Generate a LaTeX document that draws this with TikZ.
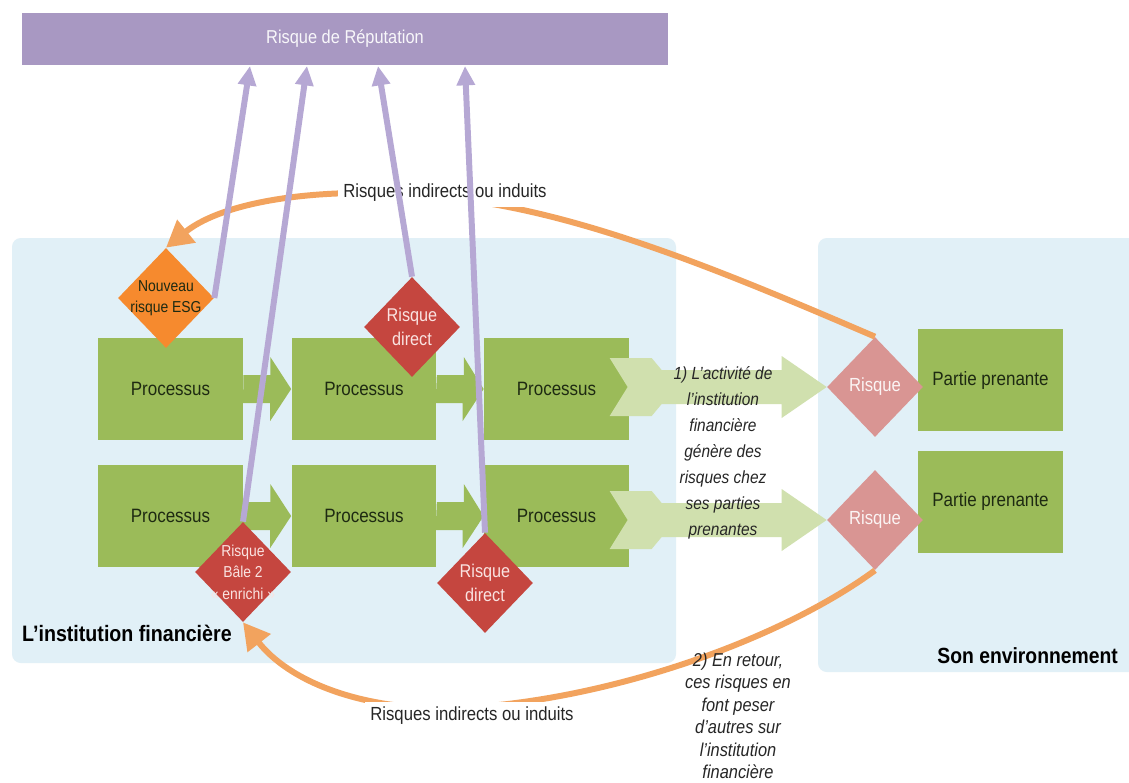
\documentclass[tikz,border=0pt]{standalone}
\usepackage{fontspec}
\setmainfont{Liberation Sans}[FakeStretch=0.88]
\usetikzlibrary{shapes.geometric,arrows.meta,calc}

\definecolor{repviolet}{HTML}{A898C2}
\definecolor{lineviolet}{HTML}{B6A8D4}
\definecolor{panelblue}{HTML}{E1F0F7}
\definecolor{procgreen}{HTML}{9BBB59}
\definecolor{palegreen}{HTML}{D0E0AE}
\definecolor{esgorange}{HTML}{F68A2E}
\definecolor{directred}{HTML}{C5463F}
\definecolor{risquepink}{HTML}{D99593}
\definecolor{induitorange}{HTML}{F2A35E}
\definecolor{darktext}{HTML}{1E2A12}
\definecolor{paletext}{HTML}{FAE3E1}

\tikzset{
  proc/.style={fill=procgreen, minimum width=2.9cm, minimum height=2.04cm, inner sep=0,
    text=darktext, font=\fontsize{11}{13}\selectfont},
  diam/.style={diamond, minimum width=1.92cm, minimum height=2cm, inner sep=0},
  dtext/.style={align=center, text=paletext},
  repline/.style={lineviolet, line width=3.4pt, -{Triangle[width=10pt,length=11pt]}},
  induit/.style={induitorange, line width=3.4pt, -{Triangle[width=16pt,length=15pt]}},
  induitlabel/.style={fill=white, inner sep=3pt, text=black!85, font=\fontsize{10.8}{13}\selectfont}
}

\begin{document}
\begin{tikzpicture}[x=0.02cm,y=-0.02cm]
\fill[white] (0,0) rectangle (1129,782);
\useasboundingbox (0,0) rectangle (1129,782);

% les deux cadres
\fill[panelblue, rounded corners=5pt] (12,238) rectangle (676,663);
\fill[panelblue, rounded corners=5pt] (818,238) rectangle (1150,672);

\node[fill=repviolet, minimum width=12.92cm, minimum height=1.04cm, text=white!92!repviolet,
  font=\fontsize{10.6}{13}\selectfont] (rep) at (345,39) {Risque de Réputation};

% processus
\node[proc] (p11) at (170.5,389) {Processus};
\node[proc] (p12) at (364,389) {Processus};
\node[proc] (p13) at (556.5,389) {Processus};
\node[proc] (p21) at (170.5,516) {Processus};
\node[proc] (p22) at (364,516) {Processus};
\node[proc] (p23) at (556.5,516) {Processus};

\foreach \a/\b in {p11/p12,p12/p13,p21/p22,p22/p23}
  \fill[procgreen] (\a.east) ++(0,-14) -- ++(27,0) -- ++(0,-18) -- (\b.west)
    -- ++(-21,32) -- ++(0,-18) -- ++(-27,0) -- cycle;

% parties prenantes
\node[proc] (pp1) at (990.5,380) {Partie prenante};
\node[proc] (pp2) at (990.5,501.5) {Partie prenante};

\node[diam, fill=risquepink, label={[dtext, text=white!90!risquepink, font=\fontsize{10.8}{13}\selectfont]center:Risque}] (r1) at (875,387) {};
\node[diam, fill=risquepink, label={[dtext, text=white!90!risquepink, font=\fontsize{10.8}{13}\selectfont]center:Risque}] (r2) at (875,520) {};

\foreach \a/\b in {p13/r1,p23/r2}
  \fill[palegreen] (\b.west) -- ++(-45,-31) -- ++(0,14) -- ++(-120,0) -- ++(-10,-12)
    -- ++(-42,0) -- ++(18,29) -- ++(-18,29) -- ++(42,0) -- ++(10,-12) -- ++(120,0)
    -- ++(0,14) -- cycle;

% risques dans l'institution
\node[diam, fill=esgorange, label={[dtext, text=darktext, font=\fontsize{9}{12}\selectfont]center:Nouveau\\risque ESG}] (esg) at (166,298) {};
\node[diam, fill=directred, label={[dtext, font=\fontsize{10.5}{14}\selectfont]center:Risque\\direct}] (direct1) at (412,327) {};
\node[diam, fill=directred, label={[dtext, font=\fontsize{9}{12.2}\selectfont]center:Risque\\Bâle 2\\« enrichi »}] (bale) at (243,572) {};
\node[diam, fill=directred, label={[dtext, font=\fontsize{10.5}{14}\selectfont]center:Risque\\direct}] (direct2) at (485,583) {};

% risques indirects
\draw[induit] (r1.north) .. controls (720,270) and (580,212) .. (450,198)
  .. controls (330,184) and (225,200) .. (esg.north);
\draw[induit] (r2.south) .. controls (780,640) and (610,700) .. (462,708)
  .. controls (360,712) and (288,680) .. (bale.south);
\node[induitlabel] (ind1) at (445,193) {Risques indirects ou induits};
\node[induitlabel] (ind2) at (472,716) {Risques indirects ou induits};

\node[align=center, text=black!85, font=\itshape\fontsize{10}{14.8}\selectfont] (activite) at (723,453)
  {1) L’activité de\\l’institution\\financière\\génère des\\risques chez\\ses parties\\prenantes};
\node[align=center, text=black!85, font=\itshape\fontsize{10.6}{12.8}\selectfont] (retour) at (738,716)
  {2) En retour,\\ces risques en\\font peser\\d’autres sur\\l’institution\\financière};

\node[anchor=west, font=\bfseries\fontsize{12.7}{15}\selectfont] (inst) at (16,633) {L’institution financière};
\node[anchor=east, font=\bfseries\fontsize{12.5}{15}\selectfont] (env) at (1124,656) {Son environnement};

% vers le risque de reputation
\coordinate (t1) at (250,66);
\coordinate (t2) at (307,66);
\coordinate (t3) at (378,66);
\coordinate (t4) at (465,66);
\draw[repline] (esg.east) -- (t1);
\draw[repline] (bale.north) -- (t2);
\draw[repline] (direct1.north) -- (t3);
\draw[repline] (direct2.north) -- (t4);
\end{tikzpicture}
\end{document}
